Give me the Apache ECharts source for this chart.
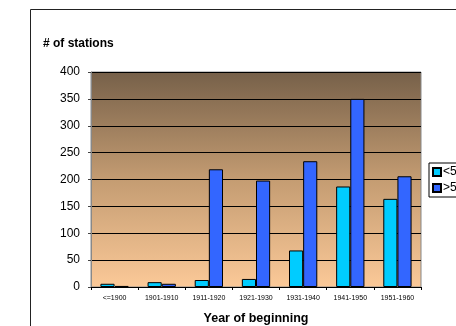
<!DOCTYPE html>
<html>
<head>
<meta charset="utf-8">
<script src="https://cdn.jsdelivr.net/npm/echarts@6/dist/echarts.min.js"></script>
<style>
  html, body { margin: 0; padding: 0; background: #fff; }
  #chart { width: 456px; height: 326px; }
</style>
</head>
<body>
<div id="chart"></div>
<script>
// 数据
var categories = ['<=1900', '1901-1910', '1911-1920', '1921-1930', '1931-1940', '1941-1950', '1951-1960'];
var shortValues = [6, 9, 13, 15, 68, 187, 164];
var longValues = [2, 6, 219, 198, 234, 350, 206];
var seriesNames = ['<50 years', '>50 years'];

var chart = echarts.init(document.getElementById('chart'));
var font = 'Arial, "Liberation Sans", sans-serif';

var option = {
  animation: false,
  textStyle: { fontFamily: font },
  title: {
    text: '# of stations',
    left: 38,
    top: 33,
    textStyle: { fontSize: 12, fontWeight: 'bold', color: '#000', fontFamily: font }
  },
  graphic: [{
    type: 'rect',
    shape: { x: 30.5, y: 9.5, width: 500, height: 400 },
    style: { fill: 'none', stroke: '#222', lineWidth: 1 },
    silent: true
  }],
  legend: {
    orient: 'vertical',
    left: 429,
    top: 163,
    padding: [3, 4, 3, 3],
    itemGap: 4,
    itemWidth: 8,
    itemHeight: 8,
    icon: 'rect',
    borderColor: '#000',
    borderWidth: 1,
    backgroundColor: '#fff',
    textStyle: { fontSize: 12, color: '#000', fontFamily: font, padding: [0, 0, 0, -3] },
    data: seriesNames
  },
  grid: {
    left: 91,
    top: 72,
    right: 35,
    bottom: 39,
    outerBoundsMode: 'none',
    containLabel: false,
    show: true,
    borderColor: '#888',
    borderWidth: 1,
    backgroundColor: new echarts.graphic.LinearGradient(0, 0, 0, 1, [
      { offset: 0, color: '#766049' },
      { offset: 0.5, color: '#c49c72' },
      { offset: 1, color: '#fbc998' }
    ])
  },
  xAxis: {
    type: 'category',
    data: categories,
    name: 'Year of beginning',
    nameLocation: 'middle',
    nameGap: 25,
    nameTextStyle: { fontSize: 12.5, fontWeight: 'bold', color: '#000' },
    axisLine: { lineStyle: { color: '#000', width: 1 } },
    axisTick: { show: true, alignWithLabel: false, length: 3, lineStyle: { color: '#000' } },
    axisLabel: { fontSize: 7, color: '#000', margin: 8, interval: 0 }
  },
  yAxis: {
    type: 'value',
    min: 0,
    max: 400,
    interval: 50,
    axisLine: { show: true, lineStyle: { color: '#888' } },
    axisTick: { show: true, length: 3, lineStyle: { color: '#444' } },
    axisLabel: { fontSize: 12, color: '#000', margin: 11 },
    splitLine: { lineStyle: { color: '#000', width: 1 } }
  },
  series: [
    {
      name: seriesNames[0],
      type: 'bar',
      data: shortValues,
      barGap: '0%',
      barCategoryGap: '40%',
      itemStyle: { color: '#00ccff', borderColor: '#000', borderWidth: 1 }
    },
    {
      name: seriesNames[1],
      type: 'bar',
      data: longValues,
      itemStyle: { color: '#3366ff', borderColor: '#000', borderWidth: 1 }
    }
  ]
};

chart.setOption(option);
</script>
</body>
</html>
